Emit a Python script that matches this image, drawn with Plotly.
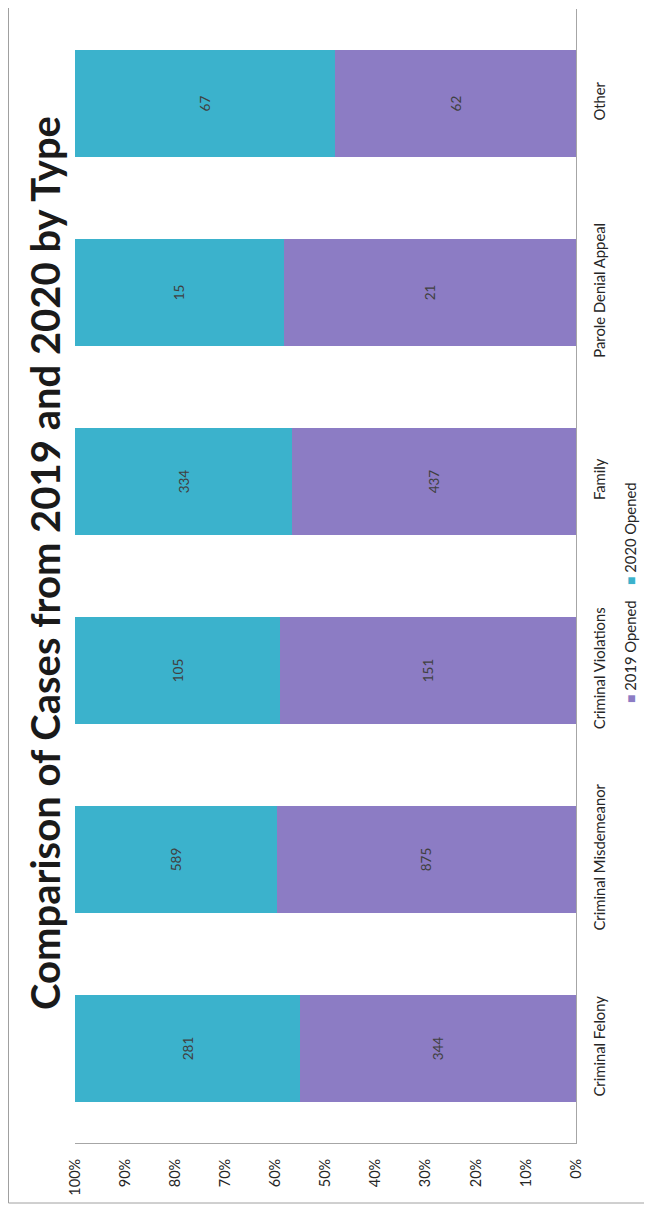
import plotly.graph_objects as go

# ---- data ----
categories = ["Criminal Felony", "Criminal Misdemeanor", "Criminal Violations",
              "Family", "Parole Denial Appeal", "Other"]
opened_2019 = [344, 875, 151, 437, 21, 62]
opened_2020 = [281, 589, 105, 334, 15, 67]
series_names = ["2019 Opened", "2020 Opened"]
tick_values = [0, 10, 20, 30, 40, 50, 60, 70, 80, 90, 100]
tick_labels = ["0%", "10%", "20%", "30%", "40%", "50%", "60%", "70%", "80%", "90%", "100%"]
title_text = "Comparison of Cases from 2019 and 2020 by Type"

# ---- style ----
W, H = 652, 1215
OFF = 8  # page body margin offset
PURPLE = "#8C7CC4"
CYAN = "#3BB2CC"
FONT = "Lato"
TXT = "#262626"


def px(x):
    return (x - OFF) / W


def py(y):
    return 1 - (y - OFF) / H


fig = go.Figure()
fig.add_trace(go.Bar(
    y=categories, x=opened_2019, name=series_names[0], orientation="h",
    marker=dict(color=PURPLE, line=dict(width=0)),
    text=opened_2019, textposition="inside", insidetextanchor="middle",
    textangle=-90, textfont=dict(family=FONT, size=13.5, color="#404040"),
    cliponaxis=False,
))
fig.add_trace(go.Bar(
    y=categories, x=opened_2020, name=series_names[1], orientation="h",
    marker=dict(color=CYAN, line=dict(width=0)),
    text=opened_2020, textposition="inside", insidetextanchor="middle",
    textangle=-90, textfont=dict(family=FONT, size=13.5, color="#404040"),
    cliponaxis=False,
))

fig.update_layout(
    template="none",
    width=W, height=H,
    margin=dict(l=0, r=0, t=0, b=0, autoexpand=False),
    paper_bgcolor="white", plot_bgcolor="white",
    barmode="stack", barnorm="percent", bargap=0.435,
    showlegend=False,
    font=dict(family=FONT, size=14, color=TXT),
    xaxis=dict(
        domain=[px(75), px(576)], automargin=False,
        range=[100, 0],
        tickvals=tick_values, ticktext=tick_labels,
        tickangle=-90, showgrid=False, zeroline=False,
        showline=True, linecolor="#A6A6A6", linewidth=1,
        ticks="", ticklabelstandoff=9,
        tickfont=dict(family=FONT, size=14.5, color=TXT),
        fixedrange=True,
    ),
    yaxis=dict(
        domain=[py(1143), py(9)], automargin=False,
        side="right", tickangle=-90, showgrid=False, zeroline=False,
        showline=True, linecolor="#A6A6A6", linewidth=1,
        ticks="", ticklabelstandoff=10,
        tickfont=dict(family=FONT, size=14.8, color=TXT),
        categoryorder="array", categoryarray=categories,
        fixedrange=True,
    ),
)

annotations = [
    dict(text=f"<b>{title_text}</b>", x=px(45), y=py(563), xref="paper", yref="paper",
         textangle=-90, showarrow=False, xanchor="center", yanchor="middle",
         font=dict(family=FONT, size=40, color="#1a1a1a")),
    dict(text=f"<span style='color:{PURPLE};font-size:14px'>■</span> {series_names[0]}",
         x=px(630), y=py(652), xref="paper", yref="paper",
         textangle=-90, showarrow=False, xanchor="center", yanchor="middle",
         font=dict(family=FONT, size=14.8, color=TXT)),
    dict(text=f"<span style='color:{CYAN};font-size:14px'>■</span> {series_names[1]}",
         x=px(630), y=py(534), xref="paper", yref="paper",
         textangle=-90, showarrow=False, xanchor="center", yanchor="middle",
         font=dict(family=FONT, size=14.8, color=TXT)),
]
fig.update_layout(annotations=annotations)

# scanned page frame (left and bottom edges)
fig.add_shape(type="line", xref="paper", yref="paper", x0=px(8.5), x1=1, y0=py(1203), y1=py(1203),
              line=dict(color="#A0A0A0", width=1))
fig.add_shape(type="line", xref="paper", yref="paper", x0=px(8.5), x1=px(8.5), y0=py(1203), y1=1,
              line=dict(color="#A0A0A0", width=1))

fig.write_html("out.html")
